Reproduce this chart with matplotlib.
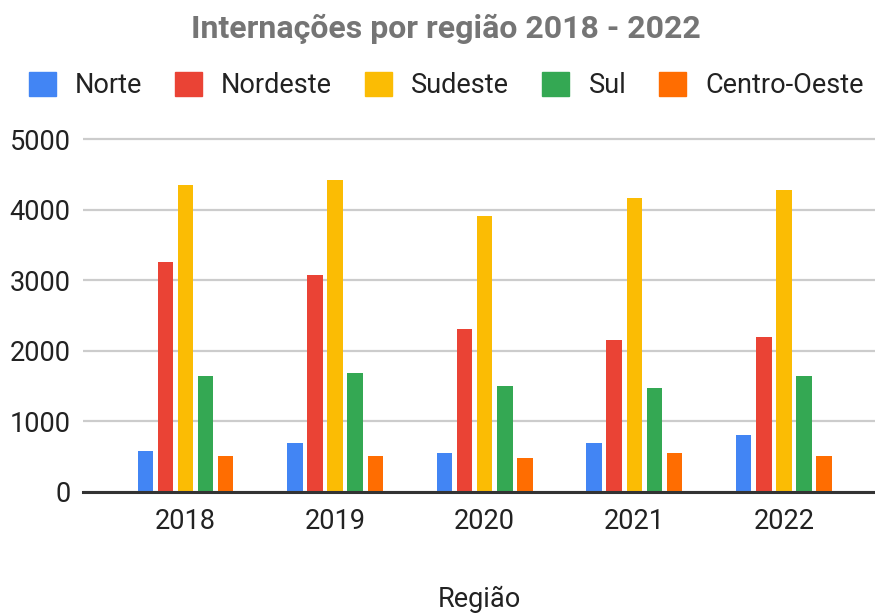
import numpy as np
import matplotlib
matplotlib.use('Agg')
import matplotlib.pyplot as plt
from matplotlib.patches import Patch

plt.rcParams['font.family'] = ['Roboto', 'DejaVu Sans']

# dados
anos = ['2018', '2019', '2020', '2021', '2022']
regioes = ['Norte', 'Nordeste', 'Sudeste', 'Sul', 'Centro-Oeste']
norte = [580, 695, 550, 695, 805]
nordeste = [3255, 3075, 2305, 2155, 2195]
sudeste = [4350, 4420, 3910, 4170, 4280]
sul = [1645, 1680, 1500, 1465, 1645]
centro_oeste = [510, 510, 475, 550, 510]
cores = ['#4285F4', '#EA4335', '#FBBC04', '#34A853', '#FF6D01']

series = [norte, nordeste, sudeste, sul, centro_oeste]

fig = plt.figure(figsize=(8.75, 6.13), dpi=100)
ax = fig.add_axes([0.0949, 0.1979, 0.9051, 0.5806])

x = np.arange(len(anos))
passo = 0.1344
largura = 0.1036
for i, (vals, cor) in enumerate(zip(series, cores)):
    ax.bar(x + (i - 2) * passo, vals, width=largura, color=cor, zorder=3)

ax.set_xlim(-0.685, 4.609)
ax.set_ylim(0, 5050)
ax.set_yticks([0, 1000, 2000, 3000, 4000, 5000])
ax.set_xticks(x)
ax.set_xticklabels(anos)
ax.grid(axis='y', color='#cccccc', linewidth=1.6, zorder=0)
for s in ['top', 'right', 'left']:
    ax.spines[s].set_visible(False)
ax.spines['bottom'].set_color('#333333')
ax.spines['bottom'].set_linewidth(2.2)
ax.spines['bottom'].set_zorder(4)
ax.tick_params(axis='both', length=0, labelsize=19.5, colors='#222222')
ax.tick_params(axis='x', pad=12)
ax.tick_params(axis='y', pad=9)
ax.set_xlabel('Região', fontsize=19.5, color='#222222', labelpad=36)

fig.suptitle('Internações por região 2018 - 2022', x=0.51, y=0.978,
             fontsize=23, fontweight='bold', color='#757575')

handles = [Patch(facecolor=c, edgecolor=c) for c in cores]
fig.legend(handles, regioes, loc='center', bbox_to_anchor=(0.51, 0.861), ncol=5,
           frameon=False, fontsize=19.5, handlelength=1.0, handleheight=1.0,
           handletextpad=0.7, columnspacing=1.22, labelcolor='#222222')

fig.savefig('out.png', dpi=100)
